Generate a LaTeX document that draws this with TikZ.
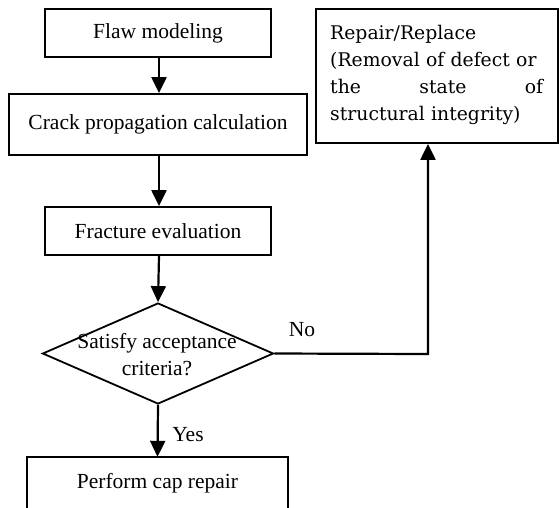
\documentclass[tikz,border=0pt]{standalone}
\usepackage{fontspec}
\setmainfont{Liberation Serif}
\newfontfamily\repfont{DejaVu Serif}
\usetikzlibrary{arrows.meta,shapes.geometric}
\begin{document}
\begin{tikzpicture}[x=1pt,y=-1pt,
  box/.style={draw,line width=1.8pt,inner sep=0pt,font=\fontsize{21.5}{27}\selectfont},
  decision/.style={draw,diamond,line width=1.8pt,inner sep=0pt,aspect=2.29},
  lbl/.style={inner sep=0pt,font=\fontsize{21.5}{27}\selectfont},
  flow/.style={line width=2.2pt,-{Triangle[width=15pt,length=16pt]}}]
\useasboundingbox (0,0) rectangle (559,507);
\node[box,minimum width=226pt,minimum height=48pt] (flaw) at (158,33) {Flaw modeling};
\node[box,minimum width=298pt,minimum height=61pt] (crack) at (158,124.5) {Crack propagation calculation};
\node[box,minimum width=226pt,minimum height=48pt] (frac) at (158,231) {Fracture evaluation};
\node[decision,minimum width=231pt,minimum height=101pt] (dec) at (158,353.5) {};
\node[lbl,align=center] (dectext) at (157,354.5) {Satisfy acceptance\\criteria?};
\node[inner sep=0pt,minimum width=261pt,minimum height=52pt,font=\fontsize{21.5}{27}\selectfont] (perf) at (157.5,483) {Perform cap repair};
\draw[line width=1.8pt] (perf.south west) -- (perf.north west) -- (perf.north east) -- (perf.south east);
\node[box,minimum width=242pt,minimum height=134pt] (rep) at (437,76) {};
\node[inner sep=0pt,text width=213pt,align=left,anchor=north west,font=\repfont\fontsize{18.8}{27}\selectfont] (reptext) at (330,25) {Repair/Replace\\(Removal of defect or\\the\hfill state\hfill of\\structural integrity)};
\coordinate (corner) at (428,354);
\draw[flow] (flaw.south -| 159,0) -- (crack.north -| 159,0);
\draw[flow] (crack.south -| 159,0) -- (frac.north -| 159,0);
\draw[flow] (frac.south -| 159,0) -- (dec.north);
\draw[flow] (dec.south) -- (perf.north);
\draw[flow] (dec.east) -- (corner) -- (rep.south -| corner);
\node[lbl] (no) at (302,330) {No};
\node[lbl] (yes) at (188,435) {Yes};
\end{tikzpicture}
\end{document}
